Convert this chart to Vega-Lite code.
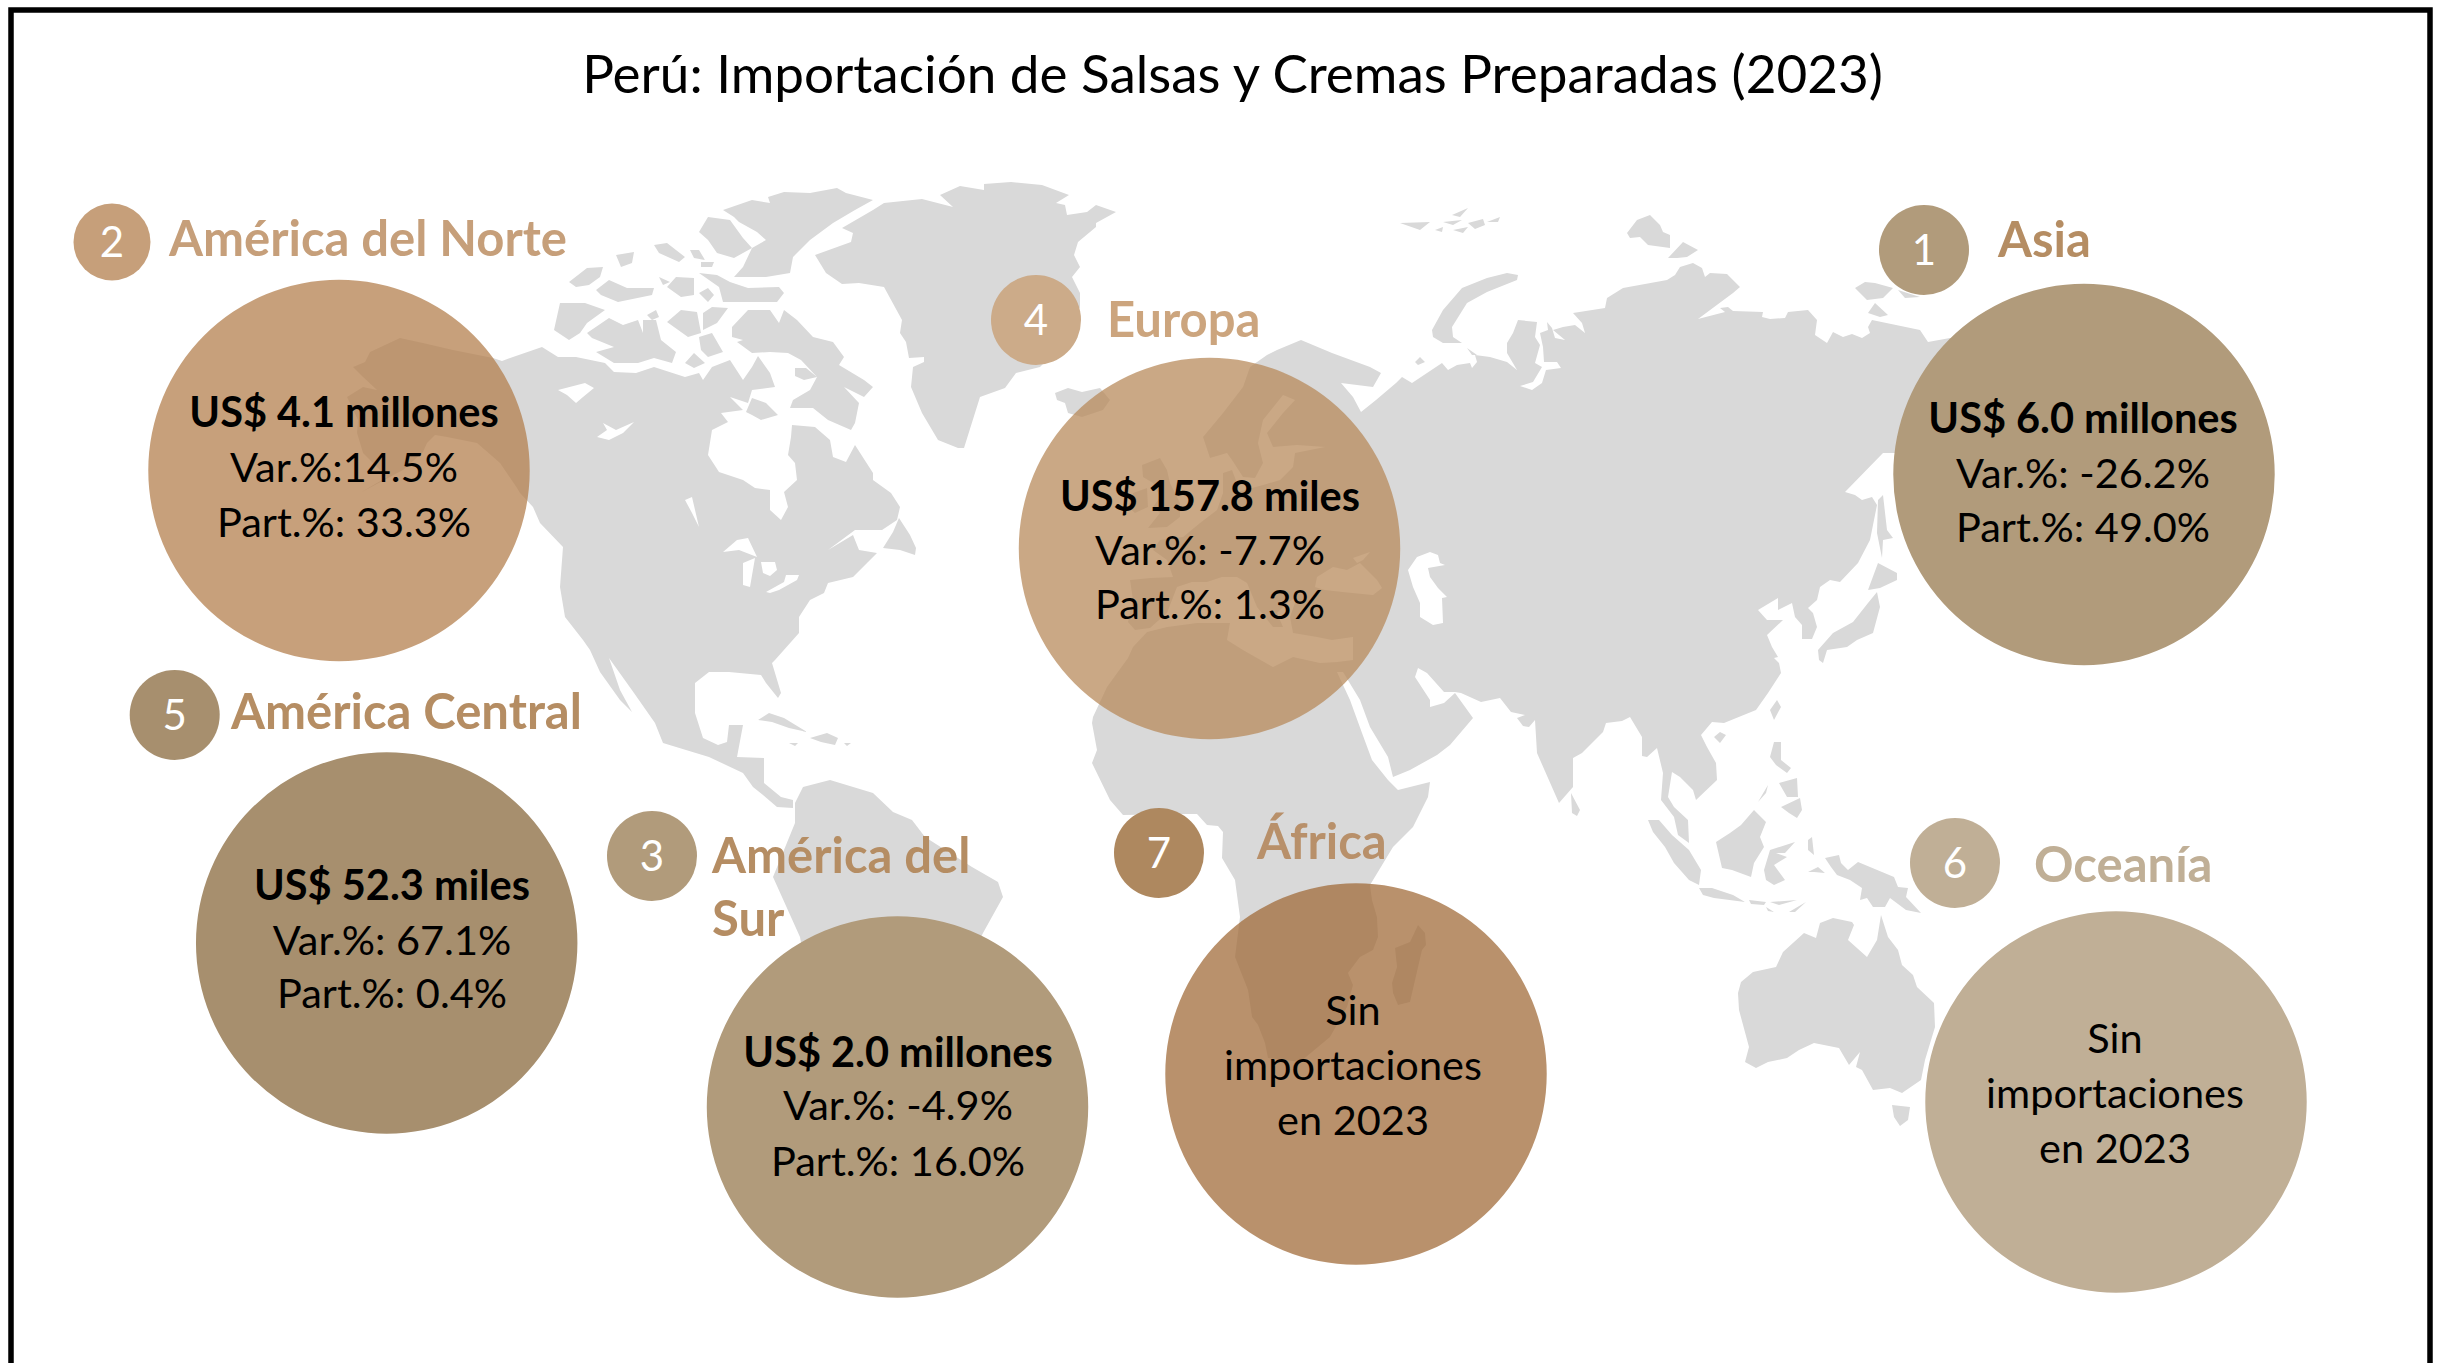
{"$schema":"https://vega.github.io/schema/vega-lite/v6.json","width":2438,"height":1363,"autosize":{"type":"fit","contains":"padding"},"padding":0,"background":"white","config":{"view":{"stroke":null}},
"projection":{"type":"identity","reflectY":true,"scale":10,"translate":[0,0]},
"datasets":{
"bubbles":[{"region":"América del Norte","lon":33.9,"lat":-47.05},{"region":"Europa","lon":120.95,"lat":-54.85},{"region":"Asia","lon":208.4,"lat":-47.45},{"region":"América Central","lon":38.67,"lat":-94.3},{"region":"América del Sur","lon":89.75,"lat":-110.7},{"region":"África","lon":135.6,"lat":-107.4},{"region":"Oceanía","lon":211.6,"lat":-110.2}],
"badges":[{"region":"Asia","rank":"1","lon":192.4,"lat":-25.0},{"region":"América del Norte","rank":"2","lon":11.2,"lat":-24.2},{"region":"América del Sur","rank":"3","lon":65.2,"lat":-85.6},{"region":"Europa","rank":"4","lon":103.6,"lat":-32.0},{"region":"América Central","rank":"5","lon":17.47,"lat":-71.5},{"region":"Oceanía","rank":"6","lon":195.5,"lat":-86.3},{"region":"África","rank":"7","lon":115.9,"lat":-85.3}],
"texts":[
{"kind":"title","text":"Perú: Importación de Salsas y Cremas Preparadas (2023)","lon":123.25,"lat":-9.3},
{"kind":"label","region":"América del Norte","text":"América del Norte","lon":16.9,"lat":-25.6},
{"kind":"label","region":"Asia","text":"Asia","lon":199.8,"lat":-25.7},
{"kind":"label","region":"Europa","text":"Europa","lon":110.7,"lat":-33.7},
{"kind":"label","region":"América Central","text":"América Central","lon":23.1,"lat":-72.9},
{"kind":"label","region":"América del Sur","text":"América del","lon":71.2,"lat":-87.3},
{"kind":"label","region":"América del Sur","text":"Sur","lon":71.2,"lat":-93.6},
{"kind":"label","region":"África","text":"África","lon":125.7,"lat":-85.9},
{"kind":"label","region":"Oceanía","text":"Oceanía","lon":203.4,"lat":-88.2},
{"kind":"bold","text":"US$ 4.1 millones","lon":34.4,"lat":-42.7},
{"kind":"body","text":"Var.%:14.5%","lon":34.4,"lat":-48.2},
{"kind":"body","text":"Part.%: 33.3%","lon":34.4,"lat":-53.7},
{"kind":"bold","text":"US$ 157.8 miles","lon":121.0,"lat":-51.07},
{"kind":"body","text":"Var.%: -7.7%","lon":121.0,"lat":-56.5},
{"kind":"body","text":"Part.%: 1.3%","lon":121.0,"lat":-61.9},
{"kind":"bold","text":"US$ 6.0 millones","lon":208.3,"lat":-43.3},
{"kind":"body","text":"Var.%: -26.2%","lon":208.3,"lat":-48.8},
{"kind":"body","text":"Part.%: 49.0%","lon":208.3,"lat":-54.2},
{"kind":"bold","text":"US$ 52.3 miles","lon":39.2,"lat":-90.0},
{"kind":"body","text":"Var.%: 67.1%","lon":39.2,"lat":-95.5},
{"kind":"body","text":"Part.%: 0.4%","lon":39.2,"lat":-100.8},
{"kind":"bold","text":"US$ 2.0 millones","lon":89.8,"lat":-106.7},
{"kind":"body","text":"Var.%: -4.9%","lon":89.8,"lat":-112.0},
{"kind":"body","text":"Part.%: 16.0%","lon":89.8,"lat":-117.6},
{"kind":"body","text":"Sin","lon":135.3,"lat":-102.5},
{"kind":"body","text":"importaciones","lon":135.3,"lat":-108.0},
{"kind":"body","text":"en 2023","lon":135.3,"lat":-113.5},
{"kind":"body","text":"Sin","lon":211.5,"lat":-105.3},
{"kind":"body","text":"importaciones","lon":211.5,"lat":-110.8},
{"kind":"body","text":"en 2023","lon":211.5,"lat":-116.3}
]},
"layer":[
{"data":{"values":{"type":"FeatureCollection","features":[{"type":"Feature","properties":{"name":"land"},"geometry":{"type":"MultiPolygon","coordinates":[
[[[35.3,-36.7],[36.5,-36.2],[37,-35.2],[40,-33.8],[42.3,-34.3],[45.3,-35],[49.3,-35.8],[50.2,-36.1],[51.3,-35.7],[54.2,-34.7],[55.8,-35.7],[57.6,-35.7],[60.5,-36.3],[61.4,-37.2],[63.6,-37.3],[65.4,-36.7],[68.5,-37.7],[69.9,-37.3],[70.3,-38],[71.2,-36.7],[73,-36],[74.3,-38],[75.2,-36.7],[75.8,-35.6],[77,-37.3],[77.5,-38.7],[75.2,-39],[74.8,-40.3],[73,-39.7],[74.3,-41],[72.1,-41.3],[72.8,-42.2],[71.2,-43],[70.8,-45.5],[71.9,-47.2],[74.3,-48],[75.5,-48.8],[77,-49],[77,-51],[78.1,-52],[78.8,-50.7],[78.4,-49.2],[79.7,-48],[79.5,-46.3],[78.8,-45.5],[79.1,-43.7],[79.2,-42.5],[81.5,-42.7],[83,-44],[83.3,-45.7],[84.6,-46.2],[85.5,-44.5],[87.3,-47.3],[87.3,-48],[89.1,-49.3],[90,-50.7],[89.7,-52],[88.2,-53],[85.5,-53],[82.8,-55],[85.3,-53.5],[85.9,-55],[87.7,-55.3],[86.8,-56.2],[85.3,-57.7],[82.8,-58.3],[82.4,-59.3],[81,-60],[79.9,-61.7],[79.9,-63.3],[77.5,-66],[77.2,-66.3],[78.1,-69.3],[77.8,-69.8],[76.6,-68.3],[76.1,-67.5],[72.9,-67.2],[70.9,-67.2],[69.5,-68.3],[69.5,-71.3],[70.3,-73.8],[71.8,-74.5],[72.7,-74.2],[72.9,-72.5],[74.3,-72.5],[73.7,-75.7],[76.4,-75.8],[76.4,-78.3],[78.1,-79.7],[79.3,-80],[79.3,-80.8],[77.7,-80.7],[76.3,-79.5],[75.3,-78.7],[74.3,-77.3],[70.9,-75.7],[66.3,-74.3],[65.5,-72.3],[63.4,-69.3],[60.9,-65.8],[62,-69],[63.2,-71.2],[62,-70],[60,-67.2],[59,-65],[58.3,-64],[56.5,-61.7],[56,-58.7],[56.3,-54.7],[54,-52.3],[53.3,-50.7],[52,-49.3],[51.7,-48.8],[50,-46.3],[47.7,-44.3],[44.7,-43.7],[43.5,-43.5],[42.7,-44.3],[42.3,-45.2],[40.3,-47],[36,-49.3],[38.7,-47.7],[36.3,-45.3],[35.7,-43.3],[35.8,-42],[34.7,-39.7],[36.3,-38.7],[37.7,-39],[36.3,-37.7],[35.3,-36.7]]],
[[[88.3,-54.8],[89.3,-53.2],[89.9,-51.8],[91,-53.5],[91.6,-54.8],[91.5,-55.5],[90,-55],[88.3,-54.8]]],
[[[73.2,-32.7],[74.8,-31],[77,-31],[77.9,-32.3],[78.4,-31],[79.7,-32],[81.3,-33.7],[83.3,-34.2],[84.4,-35.7],[83.9,-36.5],[86.4,-38],[87.3,-38.7],[86.4,-39.7],[84.4,-38.7],[85.9,-40.3],[85.5,-42.3],[85.1,-43],[82.8,-42],[81.3,-40.8],[79,-40.8],[79.3,-40],[81,-39],[81.7,-37.7],[80.1,-36],[78.8,-35.3],[77,-35.2],[75.2,-35.3],[73.7,-34.2],[74.3,-34],[73.2,-33.7],[73.2,-32.7]]],
[[[79.5,-36.8],[80.6,-36.8],[81.7,-37.7],[80.4,-38],[79.5,-37.6],[79.5,-36.8]]],
[[[74.6,-41.2],[75.2,-39.8],[76.6,-40.3],[77.8,-41.5],[76.1,-42],[75.2,-41.5],[74.6,-41.2]]],
[[[58.7,-33.3],[60.9,-31.8],[62.3,-32.5],[63.8,-32],[64.3,-33.3],[64.3,-32],[65.6,-32],[66.1,-34],[67.6,-35.2],[67.2,-36.3],[65.4,-35.8],[63.8,-36.3],[61.4,-36.3],[59.6,-35.2],[61.4,-34.7],[59.2,-33.8],[58.7,-33.3]]],
[[[56,-30.3],[58.5,-30.3],[60.5,-31],[58.7,-32.3],[58,-33.3],[56.9,-34],[55.4,-33],[56,-30.3]]],
[[[66.7,-32.2],[68.1,-31],[69.7,-31.2],[70.1,-33.3],[68.8,-33.7],[66.7,-32.2]]],
[[[70.3,-31.3],[71.2,-30.7],[72.8,-30.8],[71.7,-32.3],[70.3,-33],[70.3,-31.3]]],
[[[69.9,-33.7],[71.2,-33.3],[72.3,-35.2],[70.8,-35.7],[70.1,-35],[69.9,-33.7]]],
[[[68.5,-36.3],[69.4,-35.3],[70.5,-36.3],[69.4,-36.8],[68.5,-36.3]]],
[[[64.7,-31.5],[65.6,-31],[65.9,-31.7],[65.2,-32],[64.7,-31.5]]],
[[[56.9,-28.2],[58.7,-26.8],[60.3,-26.7],[60,-27.7],[58.9,-28.5],[57.6,-28.7],[56.9,-28.2]]],
[[[59.6,-29],[60.9,-28],[62.7,-28.8],[65.4,-28.8],[65.2,-29.5],[61.8,-30.2],[60.1,-29.5],[59.6,-29]]],
[[[66.7,-28.7],[67.6,-27.7],[69.4,-27.8],[69.4,-29.5],[68.1,-29.7],[66.7,-28.7]]],
[[[69.9,-27.3],[71.7,-27.5],[73,-28.2],[74.8,-28.8],[77.9,-28.7],[78.4,-29.3],[77.7,-30.2],[74.8,-30.2],[72.3,-30.2],[71.9,-28.7],[69.9,-27.3]]],
[[[69.9,-29.3],[70.8,-28.8],[71.4,-29.5],[70.8,-30.2],[69.9,-29.3]]],
[[[72.3,-21],[75.2,-20],[77,-20.3],[76.8,-19.7],[78.4,-19.2],[81,-19.3],[83.7,-18.8],[84.6,-19.3],[87.3,-20],[85.5,-21],[83.3,-22.3],[81,-24],[79.3,-25.7],[79,-27.3],[76.6,-27.7],[73.4,-27.7],[74.3,-26.7],[75.2,-24.8],[76.6,-24],[75.7,-23.2],[73.9,-22.2],[73.4,-21.7],[72.3,-21]]],
[[[69.9,-23.2],[70.8,-21.7],[73,-22],[74.3,-23.8],[75.2,-24.8],[73.4,-25.8],[71.7,-25.3],[70.8,-24],[69.9,-23.2]]],
[[[69,-25],[69.9,-25],[70.5,-26],[69.4,-25.8],[69,-25]]],
[[[65.4,-24.5],[66.7,-24.3],[68.5,-25.7],[67.9,-26.2],[65.9,-25.3],[65.4,-24.5]]],
[[[61.6,-25.5],[63.4,-25.2],[63.2,-26.3],[62.1,-26.7],[61.6,-25.5]]],
[[[65.9,-27.7],[67,-28.2],[66.3,-28.5],[65.9,-27.7]]],
[[[70.1,-26.2],[71.4,-26.2],[71.2,-26.7],[70.1,-26.7],[70.1,-26.2]]],
[[[84.2,-22.8],[87.3,-21],[88.4,-20.3],[92.2,-19.9],[95.3,-20.7],[94,-19.5],[96,-18.6],[98.4,-19],[98.4,-18.4],[101.1,-18.2],[104.2,-18.5],[106.9,-19.5],[105.6,-20.3],[106.5,-20.5],[106.7,-21.5],[108.7,-21.2],[109.6,-20.5],[111.6,-21.2],[109.6,-22.3],[109.6,-22.7],[107.8,-24.2],[107.4,-25.5],[108,-26.7],[107.2,-27.7],[108,-29.3],[108,-30.7],[106,-34.7],[104,-36.7],[101.6,-37.3],[100.5,-38.8],[98,-39.7],[96.4,-44.8],[95.8,-44.8],[93.8,-44],[92.2,-41.3],[91.1,-38.7],[91.3,-36.7],[92.4,-36.2],[92.4,-35.7],[90.9,-35.8],[90.6,-34.2],[90,-33.3],[90.2,-32],[88.4,-28.7],[85.9,-28.3],[84.2,-28.4],[82.6,-27.3],[81.5,-25.5],[85.1,-24.2],[85.3,-23.3],[84.2,-22.8]]],
[[[105.5,-39.3],[106.8,-38.8],[108.2,-39.2],[110,-38.8],[111,-40],[110.3,-41],[108.2,-41.7],[106.8,-41.3],[106.5,-40.3],[105.7,-40],[105.5,-39.3]]],
[[[125,-36.7],[126.7,-35.5],[127.7,-35],[130.1,-34],[133.2,-35.3],[137,-36.7],[138.1,-37.3],[137.3,-38.7],[134.1,-38.3],[135.3,-39.7],[136.1,-41.2],[137.6,-40],[139.6,-38.3],[140.2,-37.7],[141.2,-38.3],[144.2,-36.3],[144.8,-37],[145.7,-36.5],[147,-36.3],[147.2,-36.8],[147.7,-36.2],[147.5,-35.5],[149,-35.7],[150.7,-36.2],[151.7,-37],[150.7,-35.3],[150.7,-34.3],[151.3,-33.3],[151.8,-32],[153.7,-32.2],[153.5,-33.7],[154,-34.5],[153.5,-36.3],[154.2,-36.7],[153.3,-38.2],[152,-38.6],[153.2,-39],[154.2,-38.3],[154.6,-37],[156.1,-36.8],[155.7,-36.2],[154.4,-36.2],[154.3,-34.7],[154,-33.3],[154.8,-33],[154.7,-32.2],[155.2,-32.8],[155.5,-33.8],[156.5,-34],[155.3,-33],[156.3,-32.7],[157.5,-32.5],[158.5,-33.3],[158.2,-32.3],[157.3,-31.3],[160.5,-30.8],[160.7,-29.8],[162.3,-28.8],[166.7,-28],[167.5,-27.5],[168,-26.7],[169.3,-26.3],[170.2,-26.8],[170.5,-27.7],[171,-27.3],[172.7,-27.4],[174,-28.7],[173.3,-29.3],[169.8,-31.9],[172.5,-31.2],[172,-30.8],[172.8,-30.7],[173.3,-31.1],[176.3,-31.2],[176.2,-31.7],[177,-31.9],[178.5,-31.8],[178.8,-31.2],[180.8,-31],[181.7,-32],[181.5,-33.5],[182.7,-34.3],[183.3,-33.2],[184.3,-33.7],[185.2,-33.4],[186.2,-33.8],[187,-33.3],[186.8,-32.7],[187.2,-32],[192,-33],[192.8,-34.2],[195,-33.8],[205,-33],[205,-44],[192,-45.3],[189.3,-45.3],[188.3,-45.3],[184.5,-49.2],[185.5,-49.5],[186.2,-50],[187.2,-49.7],[187.7,-50.5],[187,-54],[185.8,-56.3],[184,-58.2],[183,-58],[182,-58.7],[181.7,-60],[180.8,-60.8],[181.3,-61.3],[181.7,-62.7],[181.2,-63.9],[180.2,-63.9],[180.2,-62.5],[179.5,-61.7],[179.2,-60.3],[177.8,-61],[177.8,-59.8],[175.8,-61],[176.7,-62],[178.3,-62],[176.7,-63.5],[177.2,-64.7],[177.8,-65.7],[177.4,-65.8],[177.9,-66.3],[178.1,-67.3],[176.8,-69.3],[175.6,-71],[172.4,-72.3],[171.2,-72.2],[170.1,-73.5],[170.7,-74.7],[171.6,-76.3],[171.7,-78],[169.6,-80],[169.3,-79],[168,-77.7],[167.2,-77.2],[166.8,-79.7],[167.4,-80.7],[168.8,-82],[168.9,-84.3],[167.8,-83.5],[167.4,-81.7],[166.1,-80],[166.3,-77.3],[165.7,-74.8],[164.7,-75.7],[164.2,-75.6],[164.2,-73.7],[163,-71.7],[162.2,-72.1],[160.6,-72.3],[160.3,-73.2],[158.2,-75.3],[157.3,-75.8],[157.3,-78.7],[155.9,-80.3],[153.7,-75.3],[153.5,-72],[152.9,-72.7],[152.3,-72.6],[151.7,-71.8],[152.5,-71.5],[151.1,-71.2],[150,-69.8],[148.1,-70.2],[146.1,-69.3],[145.5,-69.2],[144.4,-69.2],[142.7,-67.3],[141.8,-66.8],[141.5,-67.7],[143,-70],[143,-70.7],[144.4,-70.3],[145.5,-69.3],[147.3,-71.8],[145,-74.5],[143.7,-75.5],[141,-77],[139.3,-77.7],[138.8,-75.7],[137,-72.7],[136,-70],[134.3,-67.2],[133.7,-67.2],[135,-70],[136.2,-73.3],[137.2,-76],[138.8,-78],[139.8,-79],[143,-78.2],[142.8,-79.7],[141.3,-82.7],[139.3,-84.7],[137,-88.5],[137.2,-90],[137.7,-91.7],[137.8,-93.7],[137.3,-95],[136,-95.7],[134.8,-97.3],[135.3,-98.5],[134.7,-100.7],[133,-103.7],[130,-106.2],[126.8,-105.8],[126.5,-104.3],[125.8,-102.5],[125.2,-101.7],[124.8,-99],[123.5,-95.7],[124,-91.7],[123.5,-88],[122.2,-85.8],[122.3,-83.2],[121.8,-82.6],[120.7,-82.5],[119.7,-81.4],[118.7,-81.4],[112.3,-81.5],[111,-80],[109.2,-76.3],[109.7,-75],[109.2,-72.3],[109.3,-71.7],[110.7,-68.7],[112.8,-65.8],[113.3,-64.7],[114.7,-63.2],[116.7,-62.7],[119.7,-62.3],[123,-62.3],[122.7,-64],[124.3,-65],[127.3,-66.7],[129.3,-65.7],[132,-66.3],[133.7,-66.2],[135.3,-66],[135.3,-63.7],[133.2,-64],[131.7,-63.7],[129.3,-63.3],[129,-61.7],[129.7,-59.7],[128.7,-60.3],[127.7,-61.3],[128.3,-62.7],[127.3,-62.7],[125.7,-60.7],[124.7,-58.3],[123.7,-57.7],[122.2,-57.7],[120.7,-58.2],[119.2,-58.2],[117.7,-58.7],[116.7,-61.3],[115,-62.8],[113.5,-63],[112.8,-62.2],[113.3,-60],[113,-58],[115,-57.8],[117.3,-57.7],[116.7,-56],[115.3,-55],[116,-54],[118.3,-53.7],[120,-52.3],[121.7,-51],[122.3,-49.3],[122.3,-47.3],[123.2,-47],[123.7,-48.3],[123.7,-49.2],[126.3,-48.5],[128,-48],[129.3,-46.7],[129.5,-45.3],[132.5,-44.7],[129.7,-44.5],[127.3,-44.7],[126.7,-43.3],[128.3,-41.3],[129.5,-40],[128.3,-39.5],[126.3,-42],[125.8,-44.3],[126.3,-46.3],[125.5,-47.8],[124.3,-47.7],[123.2,-46],[122.7,-45.3],[121,-45.8],[120.3,-43.7],[122.3,-41.3],[124.3,-38.7],[125,-36.7]]],
[[[114.2,-46.5],[116,-45.8],[116.7,-47],[117,-48.3],[118,-50.3],[118,-51.7],[116.7,-52.7],[114.8,-52.8],[116,-51.3],[115.3,-50.7],[116,-49.7],[115.3,-48.3],[114.3,-47.7],[114.2,-46.5]]],
[[[113.3,-49.3],[114.7,-48.8],[114.8,-50.7],[113.5,-51.3],[112.8,-50.7],[113.3,-49.3]]],
[[[139.5,-94.8],[141,-94.2],[141.8,-92.5],[142.5,-93.3],[142.6,-94.5],[142.2,-95],[141,-100.2],[139.8,-100.5],[139.3,-99.3],[139.2,-98.3],[139.7,-96.7],[139.5,-94.8]]],
[[[75.8,-72],[76.9,-71.3],[78.4,-71.8],[80.7,-73.2],[78.9,-72.8],[77.2,-72.2],[75.8,-72]]],
[[[81,-73.8],[82.7,-73.3],[83.8,-73.8],[83.5,-74.5],[82.1,-74.2],[81,-73.8]]],
[[[78.9,-74.3],[79.8,-74.3],[79.5,-74.6],[78.9,-74.3]]],
[[[84.4,-74.3],[85.1,-74.3],[84.7,-74.6],[84.4,-74.3]]],
[[[79.5,-80.3],[80.3,-78.7],[83,-78],[87.3,-79.3],[89.3,-81.2],[91.2,-82],[92.5,-83.7],[97.2,-86.7],[99.8,-88.2],[100.3,-89.7],[98.3,-93.3],[95,-100],[88,-112],[82,-105],[80,-93.7],[77.3,-87.7],[79.5,-82.3],[79.5,-80.3]]],
[[[140,-22.3],[143,-22.2],[142,-23],[140,-22.3]]],
[[[144.3,-22.2],[146.2,-22],[145.3,-22.5],[144.3,-22.2]]],
[[[145.2,-21.5],[146.8,-20.8],[146,-21.7],[145.2,-21.5]]],
[[[146.8,-22.3],[148.3,-21.9],[148.5,-22.5],[147.5,-22.9],[146.8,-22.3]]],
[[[148.7,-22.2],[150,-21.7],[149.8,-22.2],[148.7,-22.2]]],
[[[145.3,-23],[146.8,-22.7],[146.3,-23.3],[145.3,-23]]],
[[[143.5,-23],[144.3,-22.7],[144.2,-23.2],[143.5,-23]]],
[[[143.2,-33],[144.3,-31],[146.2,-28.8],[148.7,-27.8],[150.7,-27.3],[151.8,-27.5],[151.7,-28],[148.7,-29.2],[146.7,-30.3],[145.2,-32.7],[145.3,-33.7],[146.2,-34.3],[144.3,-34.3],[143.3,-33.7],[143.2,-33]]],
[[[146.7,-34.8],[147.7,-35.5],[147.2,-35.5],[146.7,-34.8]]],
[[[141.5,-36.2],[142,-35.7],[142.5,-36.2],[141.8,-36.5],[141.5,-36.2]]],
[[[162.7,-23.3],[163.7,-22],[165,-21.5],[166,-22.5],[166.3,-23.2],[167,-23.5],[167,-24.8],[164.8,-24.5],[164,-23.7],[163,-23.8],[162.7,-23.3]]],
[[[166.8,-25.8],[168.3,-24.2],[169.8,-25],[168.7,-25.7],[167.7,-25.8],[166.8,-25.8]]],
[[[185.5,-28.8],[186.5,-28.2],[187.5,-28.3],[189.3,-28.8],[188.3,-29.8],[186.7,-30],[185.5,-28.8]]],
[[[186.8,-31.3],[187.5,-30.3],[188.8,-31.5],[188,-31.7],[186.8,-31.3]]],
[[[189.8,-29],[192,-29.7],[190.5,-29.8],[189.8,-29]]],
[[[187.8,-50],[188.3,-49.5],[188.7,-53],[189.3,-53.8],[188.3,-54],[188.2,-55.8],[187.7,-53.3],[187.8,-50]]],
[[[186.8,-59],[187.8,-56.3],[189.7,-57.3],[189.7,-58],[188,-58.8],[186.8,-59]]],
[[[181.8,-65],[183.3,-63.3],[185.3,-62.2],[186.8,-60.3],[187.7,-59.2],[188,-60.7],[187.3,-63.3],[185.7,-64],[184.7,-64.7],[182.7,-65],[182.3,-66.3],[181.9,-66],[181.8,-65]]],
[[[177,-71],[177.7,-70],[178.1,-70.7],[177.4,-72],[177,-71]]],
[[[171.4,-73.7],[172,-73.2],[172.6,-73.5],[172,-74.3],[171.4,-73.7]]],
[[[157.1,-79.3],[158,-81],[157.7,-81.6],[157.2,-81.3],[157.1,-79.3]]],
[[[177.4,-74.2],[178.1,-74.2],[178.1,-76],[179.1,-76.8],[178.7,-77.3],[177.6,-76.5],[177,-75.7],[177.4,-74.2]]],
[[[177.9,-78.3],[179.7,-77.8],[179.8,-79.7],[178.7,-79.7],[177.9,-78.3]]],
[[[178.1,-80.7],[180,-79.8],[180.2,-81],[179.7,-81.8],[178.9,-81.3],[178.1,-80.7]]],
[[[175.8,-80.2],[176.8,-78.5],[176.6,-79.3],[175.8,-80.2]]],
[[[171.6,-84.2],[173,-83.3],[174.1,-82.5],[175.4,-81],[176.6,-82.2],[176,-83.7],[176.4,-84.7],[175.4,-86.3],[175.1,-87.7],[173.2,-87],[172.2,-86.8],[171.6,-84.2]]],
[[[177,-85],[179.5,-84.2],[178.5,-85.3],[177.6,-85.3],[178.7,-85.7],[177.4,-86.5],[178.5,-88],[177.4,-88.5],[176.6,-88],[176.4,-87],[177,-85]]],
[[[180.8,-84],[181.2,-83.7],[181.4,-85.5],[180.8,-85],[180.8,-84]]],
[[[164.8,-82],[165.9,-82],[167.2,-83.5],[168.9,-85],[170.1,-87],[169.9,-88.5],[168.9,-88],[167.4,-86.3],[166.5,-84.7],[165.3,-83.2],[164.8,-82]]],
[[[169.9,-88.8],[171.2,-88.8],[173.3,-89.5],[174.5,-90.2],[171.4,-89.8],[170.3,-89.5],[169.9,-88.8]]],
[[[174.9,-90],[176.6,-90.2],[176.4,-90.5],[175.1,-90.4],[174.9,-90]]],
[[[177,-90.2],[179.7,-90],[177.9,-90.5],[177,-90.2]]],
[[[178.9,-91.2],[180.6,-90.2],[179.5,-91.2],[178.9,-91.2]]],
[[[176.6,-90.7],[177.4,-91.2],[176.8,-91.1],[176.6,-90.7]]],
[[[180.8,-87.2],[181.8,-86.7],[182.5,-87.3],[181.4,-87.2],[180.8,-87.2]]],
[[[182.5,-85.8],[183.9,-85.5],[184.1,-86.3],[184.8,-87],[185.8,-86.2],[189.4,-87.7],[189.8,-88.7],[190.8,-88.8],[190.6,-89.7],[192.1,-91.3],[190.6,-91],[189,-89.8],[188.5,-90.7],[187.3,-90.7],[186.7,-89.8],[186,-90],[186.2,-88.8],[185,-88],[183.7,-87.5],[183.1,-86.7],[182.5,-85.8]]],
[[[174.1,-98.2],[175.3,-97.2],[177.6,-96.7],[178.3,-95.2],[180.4,-93.3],[181.6,-93.8],[182,-92.3],[183.3,-91.8],[185.2,-92.2],[185.4,-92.5],[184.8,-94],[186.7,-95.7],[187.7,-94],[188.1,-91.5],[188.8,-93.7],[189.8,-95],[190.2,-96.5],[191.3,-97.5],[191.7,-98.7],[193.4,-100.3],[193.5,-102.7],[192.5,-106],[192.1,-108],[190.2,-109.3],[189,-108.8],[187.3,-109],[186.2,-107],[185.6,-106.7],[186,-105.2],[184.9,-106.5],[183.9,-104.8],[181.4,-104.3],[179.9,-105],[178.7,-105.8],[176.8,-106.2],[175.6,-106.8],[174.5,-106.2],[174.9,-104.7],[173.9,-101],[173.8,-99.3],[174.1,-98.2]]],
[[[189.2,-110.5],[191,-110.7],[190.8,-112],[190,-112.6],[189.4,-111.7],[189.2,-110.5]]]
]}}]},"format":{"type":"json","property":"features"}},"mark":{"type":"geoshape","fill":"#D9D9D9","stroke":null}},
{"data":{"values":{"type":"FeatureCollection","features":[{"type":"Feature","properties":{"name":"water"},"geometry":{"type":"MultiPolygon","coordinates":[
[[[55.8,-39],[58.5,-38.3],[59.4,-38.8],[58.3,-39.7],[57.6,-40.3],[56.7,-39.5],[55.8,-39]]],
[[[59.7,-43.7],[60.7,-43],[60.3,-42.3],[61.6,-43],[63.4,-42.2],[62.3,-43.3],[60.9,-44],[59.7,-43.7]]],
[[[68.5,-50],[69.2,-49.7],[69.9,-52.7],[69.2,-51.3],[68.5,-50]]],
[[[72.3,-55.2],[73.7,-54],[74.8,-53.8],[75.7,-55.7],[73.9,-55],[72.3,-55.2]]],
[[[74.3,-56.3],[75.5,-55.8],[75,-58.7],[74.3,-58.5],[74.3,-56.3]]],
[[[76.1,-56.2],[77.5,-56.2],[77.7,-57],[77,-57.6],[76.3,-57.3],[76.1,-56.2]]],
[[[76.6,-59.2],[78.4,-58.2],[78.6,-57.5],[79.9,-57.5],[79.7,-58],[77.9,-59],[77,-59.3],[76.6,-59.2]]],
[[[131.7,-57.7],[133.3,-56.7],[134.7,-57],[136,-56.3],[137.7,-58],[138.2,-58.8],[137.3,-59.5],[134.3,-59.2],[132.5,-59],[131.5,-58.7],[131.7,-57.7]]],
[[[135.3,-55.8],[137,-55.2],[136.3,-56],[135.7,-56.3],[135.3,-55.8]]],
[[[140.8,-57],[141.7,-55.7],[143,-55.2],[143.8,-55.5],[144,-56.3],[144.5,-56.5],[142.8,-56.8],[143,-57.7],[143.8,-58.8],[144.7,-59.7],[144.2,-59.8],[144.3,-62.3],[143.3,-62.5],[142,-61.7],[142,-60.3],[141.3,-58.7],[140.8,-57]]]
]}}]},"format":{"type":"json","property":"features"}},"mark":{"type":"geoshape","fill":"white","stroke":null}},
{"data":{"values":{"type":"FeatureCollection","features":[{"type":"Feature","properties":{"name":"frame"},"geometry":{"type":"LineString","coordinates":[[1.1,-136.3],[1.1,-1],[243,-1],[243,-136.3]]}}]},"format":{"type":"json","property":"features"}},"mark":{"type":"geoshape","filled":false,"stroke":"black","strokeWidth":5.5}},
{"data":{"name":"bubbles"},"mark":{"type":"circle","size":145500,"strokeWidth":0},"encoding":{"longitude":{"field":"lon","type":"quantitative"},"latitude":{"field":"lat","type":"quantitative"},"color":{"field":"region","type":"nominal","legend":null,"scale":{"domain":["América del Norte","Europa","Asia","América Central","América del Sur","África","Oceanía"],"range":["#B37F4D","#B88A5B","#B19B7B","#A78F6E","#B19B7B","#A06B38","#C0AF96"]}},"opacity":{"condition":{"test":"indexof(['América del Norte','Europa','África'],datum.region)>=0","value":0.74},"value":1}}},
{"data":{"name":"badges"},"mark":{"type":"circle","opacity":1,"strokeWidth":0},"encoding":{"longitude":{"field":"lon","type":"quantitative"},"latitude":{"field":"lat","type":"quantitative"},"size":{"condition":{"test":"datum.rank==='2'","value":5929},"value":8100},"color":{"field":"region","type":"nominal","legend":null,"scale":{"domain":["Asia","América del Norte","América del Sur","Europa","América Central","Oceanía","África"],"range":["#B19B7B","#C69F7A","#B19B7B","#CCAB89","#A78F6E","#C0AF96","#AE885F"]}}}},
{"data":{"name":"badges"},"mark":{"type":"text","font":"Lato","fontSize":42,"fill":"white","align":"center","baseline":"alphabetic","dy":15},"encoding":{"longitude":{"field":"lon","type":"quantitative"},"latitude":{"field":"lat","type":"quantitative"},"text":{"field":"rank"}}},
{"data":{"name":"texts"},"transform":[{"filter":"datum.kind==='title'"}],"mark":{"type":"text","font":"Lato","fontSize":53,"fill":"black","align":"center","baseline":"alphabetic"},"encoding":{"longitude":{"field":"lon","type":"quantitative"},"latitude":{"field":"lat","type":"quantitative"},"text":{"field":"text"}}},
{"data":{"name":"texts"},"transform":[{"filter":"datum.kind==='label'"}],"mark":{"type":"text","font":"Lato","fontWeight":"bold","fontSize":49,"align":"left","baseline":"alphabetic"},"encoding":{"longitude":{"field":"lon","type":"quantitative"},"latitude":{"field":"lat","type":"quantitative"},"text":{"field":"text"},"color":{"field":"region","type":"nominal","legend":null,"scale":{"domain":["Asia","América del Norte","América del Sur","Europa","América Central","Oceanía","África"],"range":["#B58D63","#C69F7A","#B58D63","#CCA57E","#B58D63","#C0AF96","#B8906A"]}}}},
{"data":{"name":"texts"},"transform":[{"filter":"datum.kind==='bold'"}],"mark":{"type":"text","font":"Lato","fontWeight":"bold","fontSize":41.5,"fill":"black","align":"center","baseline":"alphabetic"},"encoding":{"longitude":{"field":"lon","type":"quantitative"},"latitude":{"field":"lat","type":"quantitative"},"text":{"field":"text"}}},
{"data":{"name":"texts"},"transform":[{"filter":"datum.kind==='body'"}],"mark":{"type":"text","font":"Lato","fontSize":41.5,"fill":"black","align":"center","baseline":"alphabetic"},"encoding":{"longitude":{"field":"lon","type":"quantitative"},"latitude":{"field":"lat","type":"quantitative"},"text":{"field":"text"}}}
],
"resolve":{"scale":{"color":"independent"}}}
